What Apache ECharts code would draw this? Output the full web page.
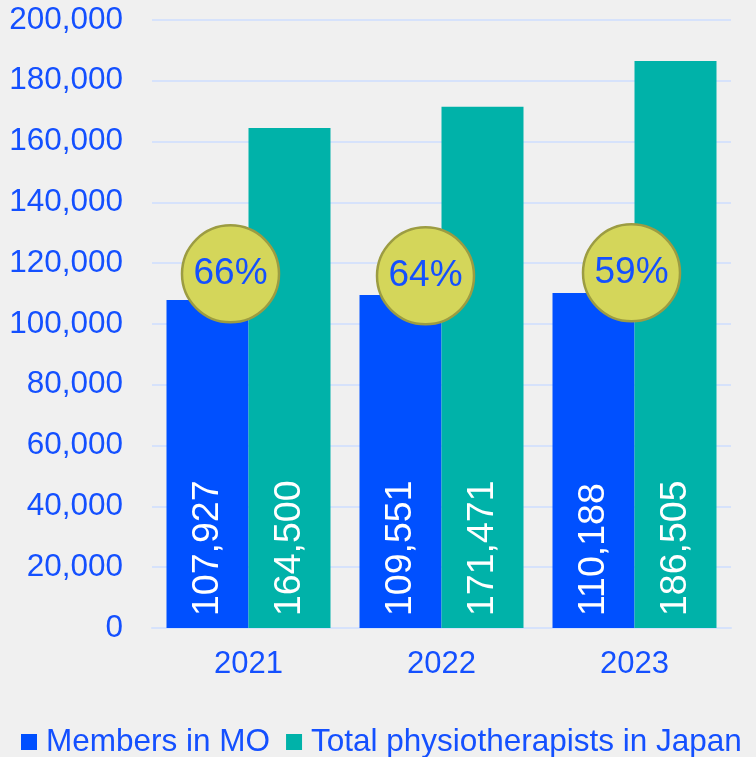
<!DOCTYPE html>
<html><head><meta charset="utf-8">
<script src="https://cdn.jsdelivr.net/npm/echarts@6/dist/echarts.min.js"></script>
<style>html,body{margin:0;padding:0;background:#f0f0f0;}#c{width:756px;height:757px;}</style>
</head><body><div id="c"></div>
<script>
const categories = ['2021', '2022', '2023'];
const membersMO = [107927, 109551, 110188];
const totalPT = [164500, 171471, 186505];
const seriesNames = ['Members in MO', 'Total physiotherapists in Japan'];
const yTicks = { min: 0, max: 200000, interval: 20000 };

const BADGE_Y = 116500;
const badgeOffsets = [[-18, 0], [-16, 2], [-3, -1]];
const txt = '#1450ff';
const font = 'Liberation Sans, Arial, sans-serif';

const chart = echarts.init(document.getElementById('c'));
const fmt = v => v.toLocaleString('en-US');
chart.setOption({
  backgroundColor: '#f0f0f0',
  animation: false,
  grid: { left: 152, right: 25, top: 20, bottom: 129 },
  legend: {
    data: seriesNames, left: 16, top: 721, width: 740, orient: 'horizontal',
    icon: 'rect', itemWidth: 16, itemHeight: 16, itemGap: 16,
    textStyle: { color: txt, fontSize: 31.5, fontFamily: font, padding: [0, 0, 0, 4] }
  },
  xAxis: {
    type: 'category', data: categories,
    axisLine: { lineStyle: { color: '#d6e2fb', width: 2 } },
    axisTick: { show: false },
    axisLabel: { color: txt, fontSize: 31, fontFamily: font, margin: 21 }
  },
  yAxis: {
    type: 'value', min: yTicks.min, max: yTicks.max, interval: yTicks.interval,
    axisLine: { show: false }, axisTick: { show: false },
    splitLine: { lineStyle: { color: '#d6e2fb', width: 2 } },
    axisLabel: { color: txt, fontSize: 31.5, fontFamily: font, margin: 29, formatter: fmt }
  },
  series: [
    {
      name: seriesNames[0], type: 'bar', data: membersMO, barWidth: 82, barGap: '0%',
      itemStyle: { color: '#0050ff' },
      label: { show: true, position: 'insideBottom', rotate: 90, align: 'left', verticalAlign: 'middle',
        distance: 12, color: '#fff', fontSize: 37.5, fontFamily: font, formatter: p => fmt(p.value) }
    },
    {
      name: seriesNames[1], type: 'bar', data: totalPT, barWidth: 82, barGap: '0%',
      itemStyle: { color: '#00b2a9' },
      label: { show: true, position: 'insideBottom', rotate: 90, align: 'left', verticalAlign: 'middle',
        distance: 12, color: '#fff', fontSize: 37.5, fontFamily: font, formatter: p => fmt(p.value) }
    },
    {
      type: 'scatter', symbol: 'circle', symbolSize: 97, z: 10,
      itemStyle: { color: '#d4d65a', borderColor: '#9c9c42', borderWidth: 2.5, opacity: 1 },
      label: { show: true, position: 'inside', color: txt, fontSize: 37, fontFamily: font,
        formatter: p => Math.round(membersMO[p.dataIndex] / totalPT[p.dataIndex] * 100) + '%' },
      data: categories.map((c, i) => ({ value: [c, BADGE_Y], symbolOffset: badgeOffsets[i] }))
    }
  ]
});
</script></body></html>
